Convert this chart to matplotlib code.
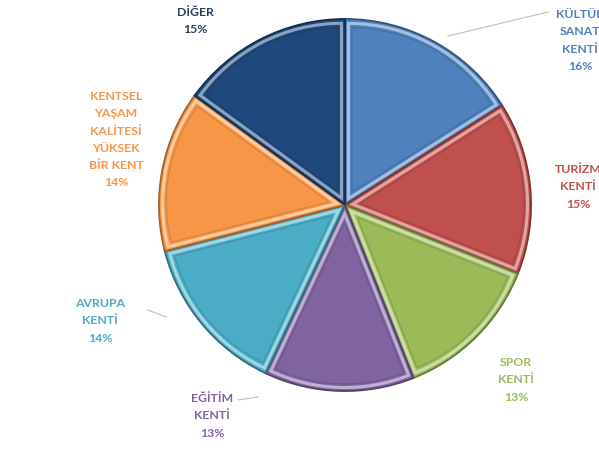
import matplotlib
matplotlib.use("Agg")
import numpy as np
import matplotlib.pyplot as plt
from matplotlib.patches import Wedge
from matplotlib.colors import to_rgb

# pie values, clockwise from 12 o'clock
labels = ["KÜLTÜR\nSANAT\nKENTİ", "TURİZM\nKENTİ", "SPOR\nKENTİ", "EĞİTİM\nKENTİ",
          "AVRUPA\nKENTİ", "KENTSEL\nYAŞAM\nKALİTESİ\nYÜKSEK\nBİR KENT", "DİĞER"]
shares = [16, 15, 13, 13, 14, 14, 15]
colors = ["#4F81BD", "#C0504D", "#9BBB59", "#8064A2", "#4BACC6", "#F79646", "#1F497D"]
text_colors = ["#4F81BD", "#C0504D", "#9BBB59", "#8064A2", "#4BACC6", "#F79646", "#2B3F5E"]

# label anchor (pixel coords, top-left origin) for each slice
label_pos = [(580, 9), (578, 164), (516, 357), (212, 393), (100, 298), (116, 91), (195, 7)]

W, H = 599, 456


def shade(c, f):
    r, g, b = to_rgb(c)
    if f < 0:
        return (r * (1 + f), g * (1 + f), b * (1 + f))
    return (r + (1 - r) * f, g + (1 - g) * f, b + (1 - b) * f)


def inset(w, px):
    # wedge outline shrunk by px pixels on every side
    half = np.radians(w.theta2 - w.theta1) / 2
    mid = np.radians(w.theta1 + w.theta2) / 2
    d = px / np.sin(half)
    c = (w.center[0] + d * np.cos(mid), w.center[1] + d * np.sin(mid))
    return c, w.r - px - d


fig = plt.figure(figsize=(W / 100, H / 100), dpi=100)
ax = fig.add_axes([0, 0, 1, 1])

cx, cy, R = 345, H - 206, 186
wedges, _ = ax.pie(shares, colors=colors, startangle=90, counterclock=False,
                   center=(cx, cy), radius=R, explode=[0.035] * len(shares),
                   wedgeprops=dict(linewidth=1.3), frame=True)
ax.set_xlim(0, W)
ax.set_ylim(0, H)
ax.set_aspect("equal")
ax.axis("off")

for w, c in zip(wedges, colors):
    w.set_edgecolor(shade(c, -0.35))
    # bevel: light rim and inner darker line
    c1, r1 = inset(w, 3.5)
    ax.add_patch(Wedge(c1, r1, w.theta1, w.theta2, facecolor="none",
                       edgecolor=shade(c, 0.55), lw=2.2, alpha=0.9))
    c2, r2 = inset(w, 7)
    ax.add_patch(Wedge(c2, r2, w.theta1, w.theta2, facecolor="none",
                       edgecolor=shade(c, -0.15), lw=1.0, alpha=0.8))

for lab, s, tc, (x, y) in zip(labels, shares, text_colors, label_pos):
    ax.text(x, H - y, f"{lab}\n{s}%", ha="center", va="top", color=tc,
            fontsize=8.8, fontweight="bold", family=["Lato", "DejaVu Sans"],
            linespacing=1.7)

# leader lines
lead = [((448, 37), (548, 13)), ((238, 401), (258, 398)), ((148, 311), (166, 318))]
for (x0, y0), (x1, y1) in lead:
    ax.plot([x0, x1], [H - y0, H - y1], color="#BFBFBF", lw=0.8)

fig.savefig("out.png", dpi=100, facecolor="white")
